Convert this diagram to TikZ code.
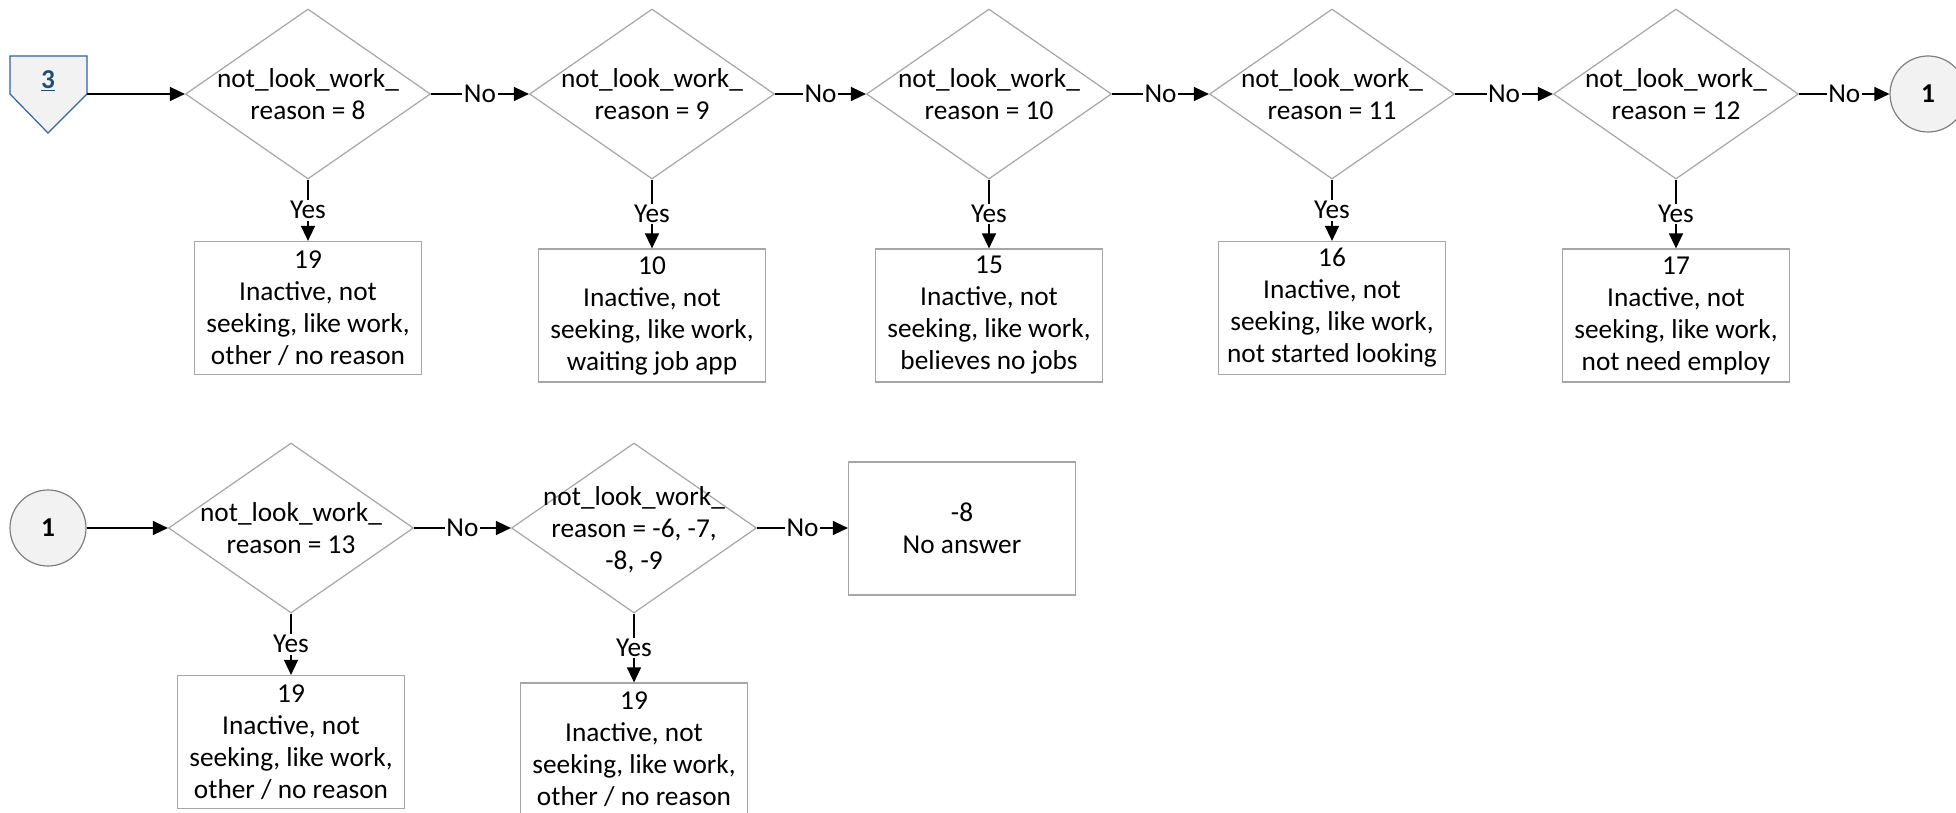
\documentclass[tikz,border=0pt]{standalone}
\usepackage{fontspec}
\setmainfont{Carlito}
\usetikzlibrary{shapes.geometric,arrows.meta}
\definecolor{linegray}{HTML}{A6A6A6}
\definecolor{circgray}{HTML}{808080}
\definecolor{fillgray}{HTML}{F2F2F2}
\definecolor{offblue}{HTML}{2E649E}
\definecolor{numblue}{HTML}{1F4E79}

\begin{document}
\begin{tikzpicture}[x=1pt,y=-1pt,font=\fontsize{27.3}{32}\selectfont,
     dec/.style={diamond,aspect=1.44,draw=linegray,line width=1.2pt,minimum width=245pt,minimum height=170pt,inner sep=-20pt,align=center,text depth=-8pt},
     res/.style={rectangle,draw=linegray,line width=1.2pt,minimum width=227pt,minimum height=133pt,inner sep=0pt,align=center},
     onpage/.style={circle,draw=circgray,line width=1.2pt,fill=fillgray,minimum size=76pt,inner sep=0pt,font=\fontsize{27.3}{32}\selectfont\bfseries},
     flow/.style={-{Triangle[length=15pt,width=14pt]},line width=1.5pt},
     lbl/.style={fill=white,inner sep=1.5pt}]
     \clip (0,0) rectangle (1956,813);
     \fill[white] (0,0) rectangle (1956,813);
     \filldraw[fill=fillgray,draw=offblue,line width=1.2pt] (10,56) -- (87,56) -- (87,94) -- (48,133) -- (10,94) -- cycle;
     \node[text=numblue,font=\fontsize{27.3}{32}\selectfont\bfseries] (p3) at (48,81) {\underline{3}};
     \coordinate (p3out) at (87,94);
     \node[dec] (d1) at (308,94) {not\_look\_work\_\\reason = 8};
     \node[dec] (d2) at (652,94) {not\_look\_work\_\\reason = 9};
     \node[dec] (d3) at (989,94) {not\_look\_work\_\\reason = 10};
     \node[dec] (d4) at (1332,94) {not\_look\_work\_\\reason = 11};
     \node[dec] (d5) at (1676,94) {not\_look\_work\_\\reason = 12};
     \node[onpage] (c1) at (1928,94) {1};
     \node[res] (b1) at (308,308) {19\\Inactive, not\\seeking, like work,\\other / no reason};
     \node[res] (b2) at (652,315.5) {10\\Inactive, not\\seeking, like work,\\waiting job app};
     \node[res] (b3) at (989,315.5) {15\\Inactive, not\\seeking, like work,\\believes no jobs};
     \node[res] (b4) at (1332,308) {16\\Inactive, not\\seeking, like work,\\not started looking};
     \node[res] (b5) at (1676,315.5) {17\\Inactive, not\\seeking, like work,\\not need employ};
     \node[onpage] (c2) at (48,528) {1};
     \node[dec] (d6) at (291,528) {not\_look\_work\_\\reason = 13};
     \node[dec] (d7) at (634,528) {not\_look\_work\_\\reason = -6, -7,\\-8, -9};
     \node[res] (b6) at (291,742) {19\\Inactive, not\\seeking, like work,\\other / no reason};
     \node[res] (b7) at (634,749.5) {19\\Inactive, not\\seeking, like work,\\other / no reason};
     \node[res] (b8) at (962,528.5) {-8\\No answer};
     \draw[flow] (p3out) -- (d1.west);
     \draw[flow] (d1.east) -- node[lbl] (n1) {No} (d2.west);
     \draw[flow] (d2.east) -- node[lbl] (n2) {No} (d3.west);
     \draw[flow] (d3.east) -- node[lbl] (n3) {No} (d4.west);
     \draw[flow] (d4.east) -- node[lbl] (n4) {No} (d5.west);
     \draw[flow] (d5.east) -- node[lbl] (n5) {No} (c1.west);
     \draw[flow] (d1.south) -- node[lbl] (y1) {Yes} (b1.north);
     \draw[flow] (d2.south) -- node[lbl] (y2) {Yes} (b2.north);
     \draw[flow] (d3.south) -- node[lbl] (y3) {Yes} (b3.north);
     \draw[flow] (d4.south) -- node[lbl] (y4) {Yes} (b4.north);
     \draw[flow] (d5.south) -- node[lbl] (y5) {Yes} (b5.north);
     \draw[flow] (c2.east) -- (d6.west);
     \draw[flow] (d6.east) -- node[lbl] (n6) {No} (d7.west);
     \draw[flow] (d7.east) -- node[lbl] (n7) {No} (d7.east -| b8.west);
     \draw[flow] (d6.south) -- node[lbl] (y6) {Yes} (b6.north);
     \draw[flow] (d7.south) -- node[lbl] (y7) {Yes} (b7.north);
\end{tikzpicture}
\end{document}
